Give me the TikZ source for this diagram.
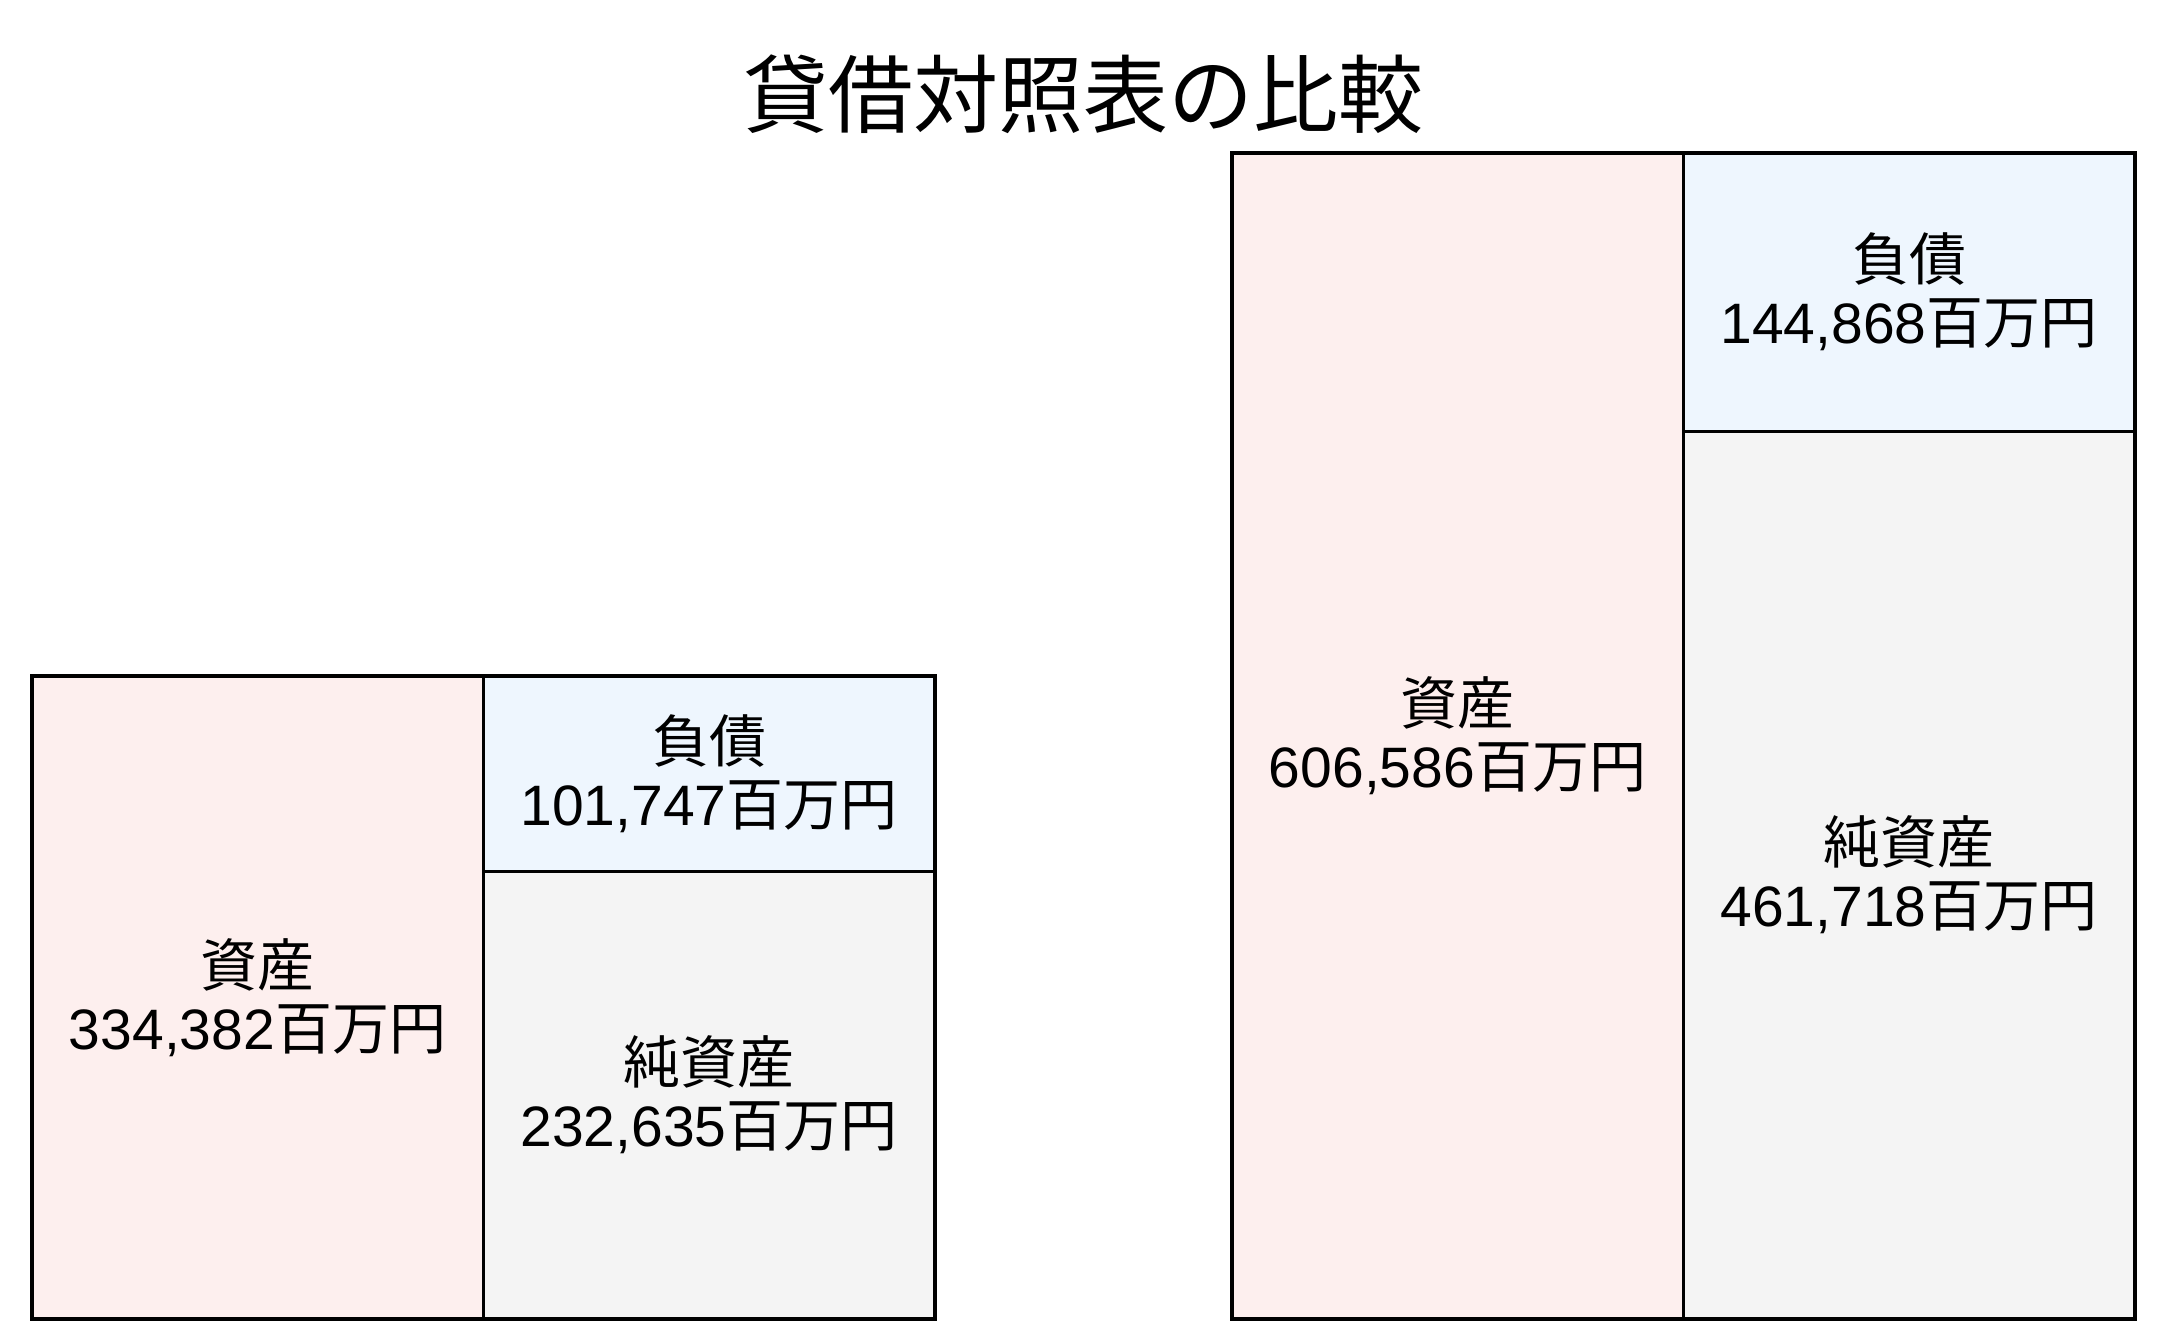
\documentclass[tikz,border=0pt]{standalone}
\usepackage{fontspec}
\setmainfont{Liberation Sans}
\newfontfamily\jp{Noto Sans CJK JP}
\definecolor{assetfill}{RGB}{253,239,238}
\definecolor{liabfill}{RGB}{238,246,254}
\definecolor{netfill}{RGB}{244,244,244}
\begin{document}
\begin{tikzpicture}[x=1pt,y=-1pt,
  box/.style={draw=black,line width=3.5pt,anchor=north west,inner sep=0pt,
    minimum width=451.5pt,align=center,font=\fontsize{57}{63}\selectfont},
  asset/.style={box,fill=assetfill},
  liab/.style={box,fill=liabfill},
  net/.style={box,fill=netfill},
  title/.style={inner sep=0pt,font=\fontsize{85}{95}\selectfont\jp}]
\useasboundingbox (0,0) rectangle (2160,1342);
\node[title] (title) at (1083,94) {貸借対照表の比較};
% left balance sheet
\node[asset,minimum height=643pt] (la) at (30,674) {{\jp 資産}\\334,382{\jp 百万円}};
\node[liab,minimum height=195.6pt] (ll) at (481.5,674) {{\jp 負債}\\101,747{\jp 百万円}};
\node[net,minimum height=447.4pt] (ln) at (481.5,869.6) {{\jp 純資産}\\232,635{\jp 百万円}};
% right balance sheet
\node[asset,minimum height=1166pt] (ra) at (1230,151) {{\jp 資産}\\606,586{\jp 百万円}};
\node[liab,minimum height=278.5pt] (rl) at (1681.5,151) {{\jp 負債}\\144,868{\jp 百万円}};
\node[net,minimum height=887.5pt] (rn) at (1681.5,429.5) {{\jp 純資産}\\461,718{\jp 百万円}};
\end{tikzpicture}
\end{document}
